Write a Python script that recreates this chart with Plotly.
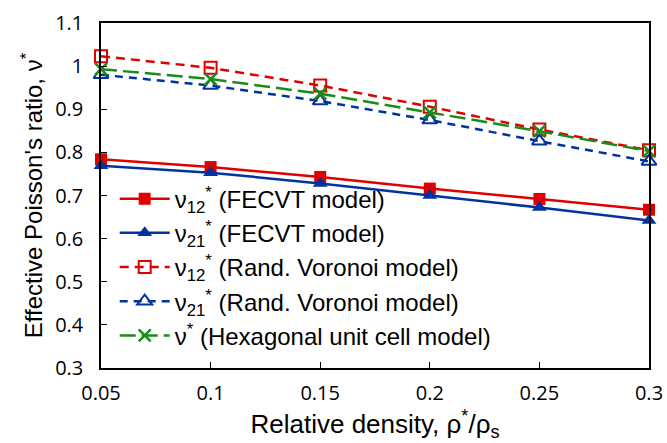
import plotly.graph_objects as go

density = [0.05, 0.10, 0.15, 0.20, 0.25, 0.30]
nu12_fecvt = [0.784, 0.766, 0.743, 0.716, 0.692, 0.667]
nu21_fecvt = [0.769, 0.753, 0.728, 0.700, 0.672, 0.642]
nu12_voronoi = [1.023, 0.996, 0.955, 0.906, 0.853, 0.805]
nu21_voronoi = [0.980, 0.955, 0.919, 0.875, 0.826, 0.779]
nu_hex = [0.993, 0.970, 0.936, 0.893, 0.849, 0.803]

x_ticks = [0.05, 0.1, 0.15, 0.2, 0.25, 0.3]
y_ticks = [0.3, 0.4, 0.5, 0.6, 0.7, 0.8, 0.9, 1.0, 1.1]
y_tick_text = ["0.3", "0.4", "0.5", "0.6", "0.7", "0.8", "0.9", "1", "1.1"]

RED = "#e00000"
BLUE = "#0033a0"
GREEN = "#1a8c1a"

fig = go.Figure()
fig.add_trace(go.Scatter(x=density, y=nu12_fecvt, mode="lines+markers", cliponaxis=False,
    name="ν<sub>12</sub><sup>*</sup> (FECVT model)",
    line=dict(color=RED, width=2.5), marker=dict(symbol="square", size=12, color=RED)))
fig.add_trace(go.Scatter(x=density, y=nu21_fecvt, mode="lines+markers", cliponaxis=False,
    name="ν<sub>21</sub><sup>*</sup> (FECVT model)",
    line=dict(color=BLUE, width=2.5), marker=dict(symbol="triangle-up", size=13, color=BLUE)))
fig.add_trace(go.Scatter(x=density, y=nu12_voronoi, mode="lines+markers", cliponaxis=False,
    name="ν<sub>12</sub><sup>*</sup> (Rand. Voronoi model)",
    line=dict(color=RED, width=2.5, dash="9px,6px"),
    marker=dict(symbol="square-open", size=12, color=RED, line=dict(width=2))))
fig.add_trace(go.Scatter(x=density, y=nu21_voronoi, mode="lines+markers", cliponaxis=False,
    name="ν<sub>21</sub><sup>*</sup> (Rand. Voronoi model)",
    line=dict(color=BLUE, width=2.5, dash="8px,6px"),
    marker=dict(symbol="triangle-up-open", size=13, color=BLUE, line=dict(width=2))))
fig.add_trace(go.Scatter(x=density, y=nu_hex, mode="lines+markers", cliponaxis=False,
    name="ν<sup>*</sup> (Hexagonal unit cell model)",
    line=dict(color=GREEN, width=2.5, dash="16px,6px"),
    marker=dict(symbol="x-thin-open", size=12, color=GREEN, line=dict(width=2.5, color=GREEN))))

fig.update_layout(
    width=667, height=443,
    margin=dict(l=101, r=18, t=23, b=75),
    paper_bgcolor="white", plot_bgcolor="white",
    font=dict(family="Liberation Sans, Arial", size=22, color="black"),
    showlegend=True,
    legend=dict(x=0.025, y=0.555, xanchor="left", yanchor="top",
                bgcolor="rgba(255,255,255,0)", font=dict(size=24),
                tracegroupgap=0, itemwidth=50),
    xaxis=dict(range=[0.05, 0.3], tickvals=x_ticks, ticktext=[str(v) for v in x_ticks],
               showline=True, linecolor="black", linewidth=1.5, mirror=True,
               ticks="inside", ticklen=6, tickcolor="black", showgrid=False, zeroline=False,
               ticklabelstandoff=6, automargin=False,
               tickfont=dict(family="Open Sans, Liberation Sans", size=20),
               title=dict(text="Relative density, ρ<sup>*</sup>/ρ<sub>s</sub>", font=dict(size=26), standoff=5)),
    yaxis=dict(range=[0.3, 1.1], tickvals=y_ticks, ticktext=y_tick_text,
               showline=True, linecolor="black", linewidth=1.5, mirror=True,
               ticks="inside", ticklen=6, tickcolor="black", showgrid=False, zeroline=False,
               ticklabelstandoff=12, automargin=False,
               tickfont=dict(family="Open Sans, Liberation Sans", size=20),
               title=dict(text="Effective Poisson's ratio, ν<sup>*</sup>", font=dict(size=24), standoff=6)),
)

fig.write_html("out.html")
